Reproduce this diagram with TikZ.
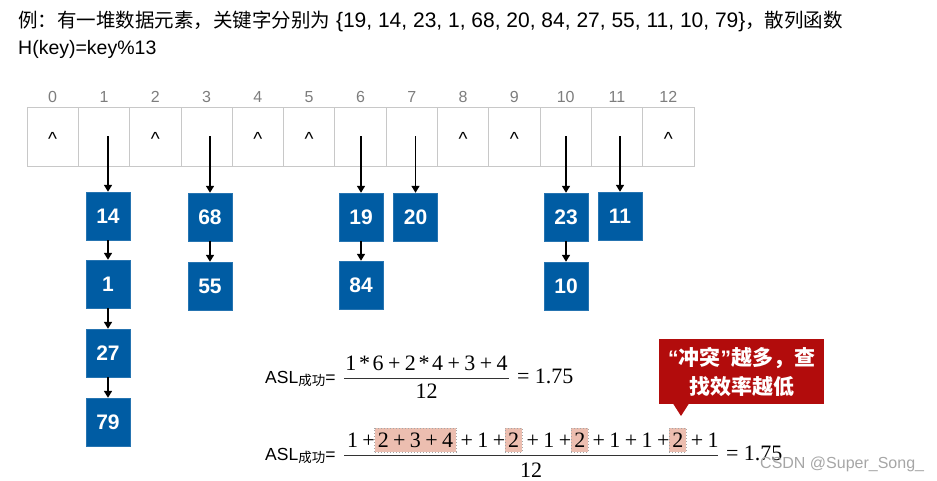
\documentclass[tikz,border=0pt]{standalone}
\usepackage{fontspec}
\setmainfont{Liberation Sans}
\newfontfamily\cjk{Noto Sans CJK SC}
\newfontfamily\formfont{Liberation Serif}
\usepackage{xcolor}
\usetikzlibrary{arrows.meta, positioning}
\definecolor{boxblue}{RGB}{0, 92, 163}
\definecolor{callred}{RGB}{178, 12, 12}
\definecolor{hlfill}{RGB}{236, 190, 176}
\definecolor{cellgray}{RGB}{200, 200, 200}
\definecolor{idxgray}{RGB}{125, 125, 125}
\newcommand{\pl}{\hspace{0.2em}+\hspace{0.2em}}
\newcommand{\ml}{\hspace{0.12em}*\hspace{0.12em}}

\begin{document}
\begin{tikzpicture}[
    x=1pt, y=-1pt,
    cellbox/.style={rectangle, draw=cellgray, line width=0.8pt, minimum width=51.3pt, minimum height=59pt, inner sep=0pt},
    idxlabel/.style={font=\fontsize{16}{16}\selectfont, text=idxgray},
    nullmark/.style={font=\fontsize{19}{19}\selectfont, anchor=base, inner sep=0pt},
    keybox/.style={rectangle, draw=boxblue!85!white, fill=boxblue, minimum width=44pt, minimum height=48pt, text=white, font=\fontsize{21}{21}\selectfont\bfseries},
    ptrarrow/.style={-{Triangle[length=7pt, width=8pt]}, line width=1.6pt, black},
    frm/.style={font=\formfont\fontsize{22}{22}\selectfont, inner sep=0pt, outer sep=0pt},
    hlterm/.style={frm, fill=hlfill, draw=gray!70, dotted, line width=1pt, inner xsep=3pt, inner ysep=4pt, text height=15pt, text depth=1pt},
    fracbar/.style={line width=0.9pt, black!80},
    aslabel/.style={anchor=base west, inner sep=0pt, font=\fontsize{17.5}{17.5}\selectfont},
    warnbox/.style={rectangle, fill=callred, text=white, minimum width=165pt, minimum height=65pt, align=center, font=\cjk\bfseries\fontsize{21}{29}\selectfont}
]
\useasboundingbox (0,0) rectangle (937,481);

% title
\node[anchor=base west, inner sep=0pt] (title) at (18,28) {{\cjk\fontsize{19.5}{19.5}\selectfont 例：有一堆数据元素，关键字分别为}{\fontsize{21}{21}\selectfont\ \{19, 14, 23, 1, 68, 20, 84, 27, 55, 11, 10, 79\}}{\cjk\fontsize{19.5}{19.5}\selectfont ，散列函数}};
\node[anchor=base west, inner sep=0pt] (hfunc) at (18,55) {\fontsize{19.5}{19.5}\selectfont H(key)=key\%13};

% hash table
\foreach \i in {0,...,12} {
    \node[cellbox] (c\i) at ({27+51.3*(\i+0.5)},136.5) {};
    \node[idxlabel] (n\i) at ({27+51.3*(\i+0.5)},97) {\i};
}
\foreach \i in {0,2,4,5,8,9,12}
    \node[nullmark] (m\i) at ([yshift=-9pt]c\i.center) {\textasciicircum};

% chains
\node[keybox] (k14) at (108,216) {14};
\node[keybox] (k1) at (108,284) {1};
\node[keybox] (k27) at (108,353) {27};
\node[keybox] (k79) at (108,422) {79};
\node[keybox] (k68) at (210,217) {68};
\node[keybox] (k55) at (210,286) {55};
\node[keybox] (k19) at (361,217) {19};
\node[keybox] (k84) at (361,285) {84};
\node[keybox] (k20) at (415.5,217) {20};
\node[keybox] (k23) at (566,217) {23};
\node[keybox] (k10) at (566,286) {10};
\node[keybox] (k11) at (620,216) {11};

\draw[ptrarrow] (k14 |- c1.center) -- (k14.north);
\draw[ptrarrow] (k68 |- c3.center) -- (k68.north);
\draw[ptrarrow] (k19 |- c6.center) -- (k19.north);
\draw[ptrarrow] (k20 |- c7.center) -- (k20.north);
\draw[ptrarrow] (k23 |- c10.center) -- (k23.north);
\draw[ptrarrow] (k11 |- c11.center) -- (k11.north);
\draw[ptrarrow] (k14) -- (k1);
\draw[ptrarrow] (k1) -- (k27);
\draw[ptrarrow] (k27) -- (k79);
\draw[ptrarrow] (k68) -- (k55);
\draw[ptrarrow] (k19) -- (k84);
\draw[ptrarrow] (k23) -- (k10);

% ASL, first line
\node[aslabel] (asl1) at (265,383) {ASL\raisebox{-2.5pt}{\cjk\fontsize{13.5}{13.5}\selectfont 成功}=};
\node[frm, anchor=base] (num1) at (426.5,370) {1\ml6\pl2\ml4\pl3\pl4};
\node[frm, anchor=base] (den1) at (426.5,398) {12};
\coordinate (f1l) at (344,378);
\coordinate (f1r) at (509,378);
\draw[fracbar] (f1l) -- (f1r);
\node[frm, anchor=base west] (res1) at (517,383) {=\hspace{0.25em}1.75};

% ASL, second line
\node[aslabel] (asl2) at (265,460) {ASL\raisebox{-2.5pt}{\cjk\fontsize{13.5}{13.5}\selectfont 成功}=};
\node[frm, anchor=base west] (t1) at (347,447) {1\pl};
\node[hlterm, base right=0pt of t1] (h1) {2\pl3\pl4};
\node[frm, base right=0pt of h1] (t2) {\pl1\pl};
\node[hlterm, base right=0pt of t2] (h2) {2};
\node[frm, base right=0pt of h2] (t3) {\pl1\pl};
\node[hlterm, base right=0pt of t3] (h3) {2};
\node[frm, base right=0pt of h3] (t4) {\pl1\pl1\pl};
\node[hlterm, base right=0pt of t4] (h4) {2};
\node[frm, base right=0pt of h4] (t5) {\pl1};
\node[frm, anchor=base] (den2) at (531,477) {12};
\coordinate (f2l) at (344,455);
\coordinate (f2r) at (718,455);
\draw[fracbar] (f2l) -- (f2r);
\node[frm, anchor=base west] (res2) at (726,460) {=\hspace{0.25em}1.75};

% callout
\node[warnbox] (warn) at (741.5,371.5) {{\rmfamily\bfseries “}冲突{\rmfamily\bfseries ”}越多，查\\找效率越低};
\coordinate (warntip) at (681,416);
\fill[callred] (673,403.5) -- (warntip) -- (689,403.5) -- cycle;

\node[anchor=base west, inner sep=0pt, text=gray!70, font=\fontsize{16}{16}\selectfont] (mark) at (760,468) {CSDN @Super\_Song\_};
\end{tikzpicture}
\end{document}
